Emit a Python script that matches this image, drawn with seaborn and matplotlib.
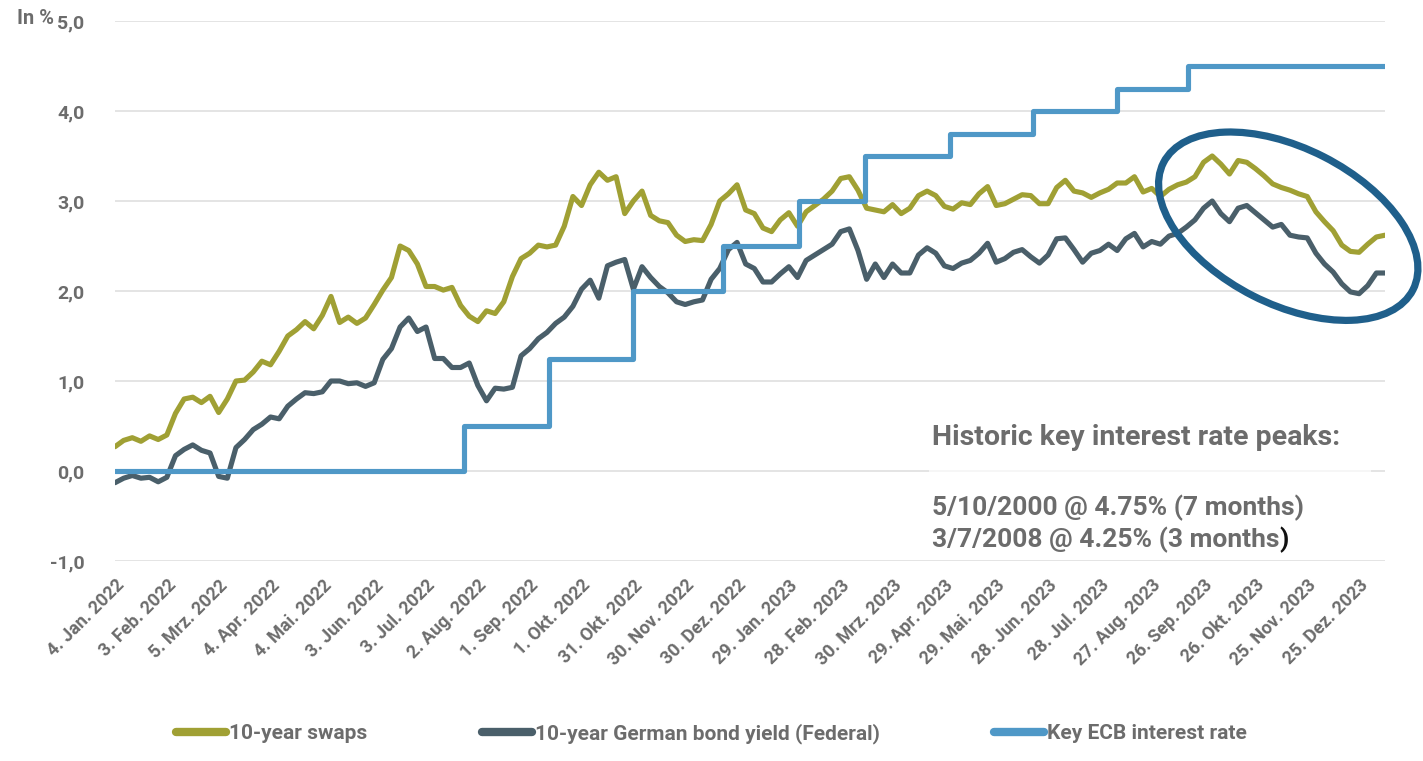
import numpy as np
import pandas as pd
import matplotlib
matplotlib.use("Agg")
import matplotlib.pyplot as plt
import matplotlib.dates as mdates
import seaborn as sns
from matplotlib.patches import Ellipse, Rectangle
from matplotlib.lines import Line2D
from matplotlib.transforms import IdentityTransform

# ---------------------------------------------------------------- data
# observations every 5 days, starting 4 Jan 2022
start_date = "2022-01-04"
n_obs = 148

swap_10y = [
    0.27, 0.34, 0.37, 0.33, 0.39, 0.35, 0.40, 0.64, 0.80, 0.82,
    0.76, 0.83, 0.65, 0.80, 1.00, 1.01, 1.10, 1.22, 1.18, 1.33,
    1.50, 1.57, 1.66, 1.58, 1.73, 1.94, 1.65, 1.71, 1.64, 1.70,
    1.85, 2.01, 2.15, 2.50, 2.45, 2.30, 2.05, 2.05, 2.01, 2.04,
    1.84, 1.72, 1.66, 1.78, 1.75, 1.88, 2.16, 2.36, 2.42, 2.51,
    2.49, 2.51, 2.72, 3.05, 2.95, 3.18, 3.32, 3.23, 3.27, 2.86,
    3.00, 3.11, 2.84, 2.78, 2.76, 2.62, 2.55, 2.57, 2.56, 2.74,
    3.00, 3.08, 3.18, 2.90, 2.86, 2.70, 2.66, 2.79, 2.87, 2.72,
    2.88, 2.95, 3.02, 3.11, 3.25, 3.27, 3.12, 2.92, 2.90, 2.88,
    2.96, 2.86, 2.92, 3.06, 3.11, 3.06, 2.94, 2.91, 2.98, 2.96,
    3.08, 3.16, 2.95, 2.97, 3.02, 3.07, 3.06, 2.97, 2.97, 3.15,
    3.23, 3.11, 3.09, 3.04, 3.09, 3.13, 3.20, 3.20, 3.27, 3.10,
    3.14, 3.05, 3.13, 3.18, 3.21, 3.27, 3.43, 3.50, 3.41, 3.30,
    3.45, 3.43, 3.36, 3.28, 3.19, 3.15, 3.12, 3.08, 3.05, 2.88,
    2.77, 2.67, 2.51, 2.44, 2.43, 2.52, 2.60, 2.62,
]

bund_10y = [
    -0.13, -0.08, -0.05, -0.08, -0.07, -0.12, -0.07, 0.17, 0.24, 0.29,
    0.23, 0.20, -0.06, -0.08, 0.26, 0.35, 0.46, 0.52, 0.60, 0.58,
    0.72, 0.80, 0.87, 0.86, 0.88, 1.00, 1.00, 0.97, 0.98, 0.94,
    0.98, 1.24, 1.36, 1.60, 1.70, 1.55, 1.60, 1.25, 1.25, 1.15,
    1.15, 1.20, 0.95, 0.78, 0.92, 0.91, 0.93, 1.28, 1.36, 1.47,
    1.54, 1.64, 1.71, 1.83, 2.02, 2.12, 1.92, 2.28, 2.32, 2.35,
    2.02, 2.27, 2.15, 2.05, 1.98, 1.88, 1.85, 1.88, 1.90, 2.13,
    2.25, 2.46, 2.54, 2.30, 2.25, 2.10, 2.10, 2.19, 2.27, 2.15,
    2.34, 2.40, 2.46, 2.52, 2.66, 2.69, 2.45, 2.13, 2.30, 2.15,
    2.30, 2.20, 2.20, 2.40, 2.48, 2.42, 2.28, 2.25, 2.31, 2.34,
    2.42, 2.53, 2.32, 2.36, 2.43, 2.46, 2.38, 2.31, 2.40, 2.58,
    2.59, 2.46, 2.32, 2.42, 2.45, 2.52, 2.45, 2.58, 2.64, 2.49,
    2.55, 2.52, 2.61, 2.64, 2.71, 2.79, 2.92, 3.00, 2.86, 2.77,
    2.92, 2.95, 2.87, 2.79, 2.71, 2.74, 2.62, 2.60, 2.59, 2.42,
    2.30, 2.21, 2.08, 1.99, 1.97, 2.06, 2.20, 2.20,
]

# key ECB rate: value valid from each date on
ecb_dates = [
    "2022-01-04", "2022-07-25", "2022-09-12", "2022-10-31", "2022-12-22",
    "2023-02-04", "2023-03-14", "2023-05-02", "2023-06-19", "2023-08-07",
    "2023-09-17", "2024-01-09",
]
ecb_rates = [0.0, 0.5, 1.25, 2.0, 2.5, 3.0, 3.5, 3.75, 4.0, 4.25, 4.5, 4.5]

tick_dates = pd.date_range(start_date, periods=25, freq="30D")
tick_labels = [
    "4. Jan. 2022", "3. Feb. 2022", "5. Mrz. 2022", "4. Apr. 2022",
    "4. Mai. 2022", "3. Jun. 2022", "3. Jul. 2022", "2. Aug. 2022",
    "1. Sep. 2022", "1. Okt. 2022", "31. Okt. 2022", "30. Nov. 2022",
    "30. Dez. 2022", "29. Jan. 2023", "28. Feb. 2023", "30. Mrz. 2023",
    "29. Apr. 2023", "29. Mai. 2023", "28. Jun. 2023", "28. Jul. 2023",
    "27. Aug. 2023", "26. Sep. 2023", "26. Okt. 2023", "25. Nov. 2023",
    "25. Dez. 2023",
]
y_ticks = [-1, 0, 1, 2, 3, 4, 5]

series_names = [
    "10-year swaps",
    "10-year German bond yield (Federal)",
    "Key ECB interest rate",
]

# highlighted recent period (centre of the ring)
ring_centre = ("2023-11-14", 2.72)

# ---------------------------------------------------------------- style
OLIVE = "#a0a034"
SLATE = "#4a5f6a"
BLUE = "#4f98c7"
RING = "#1f5f8b"
TEXT = "#6c6c6c"
GRID = "#dcdcdc"

sns.set_theme(style="white")
plt.rcParams["font.family"] = ["Roboto", "DejaVu Sans"]

W, H = 1423, 761
fig = plt.figure(figsize=(W / 100, H / 100), dpi=100)
ax = fig.add_axes([115 / W, 1 - 561 / H, 1270 / W, 540 / H])

dates = pd.date_range(start_date, periods=n_obs, freq="5D")
df = pd.DataFrame({"date": dates, "swap": swap_10y, "bund": bund_10y})
ecb = pd.DataFrame({"date": pd.to_datetime(ecb_dates), "rate": ecb_rates})

line_kw = dict(lw=3.7, solid_joinstyle="round", solid_capstyle="round")
sns.lineplot(data=df, x="date", y="swap", ax=ax, color=OLIVE, zorder=3, **line_kw)
sns.lineplot(data=df, x="date", y="bund", ax=ax, color=SLATE, zorder=4, **line_kw)
sns.lineplot(data=ecb, x="date", y="rate", ax=ax, color=BLUE, zorder=5,
             drawstyle="steps-post", **line_kw)

ax.set_xlim(dates[0], dates[-1])
ax.set_ylim(-1, 5)
ax.set_xlabel("")
ax.set_ylabel("")
for s in ax.spines.values():
    s.set_visible(False)

ax.set_yticks(y_ticks)
ax.set_yticklabels([f"{v:.1f}".replace(".", ",") for v in y_ticks])
ax.yaxis.grid(True, color=GRID, lw=1.1)
ax.set_axisbelow(True)
ax.tick_params(axis="y", length=0, pad=22, labelsize=14, labelcolor=TEXT)
for lab in ax.get_yticklabels():
    lab.set_fontweight("bold")

ax.set_xticks(tick_dates)
ax.set_xticklabels(tick_labels, rotation=45, ha="right", va="top",
                   rotation_mode="anchor")
ax.tick_params(axis="x", length=0, pad=11, labelsize=13, labelcolor=TEXT)
for lab in ax.get_xticklabels():
    lab.set_fontweight("bold")

fig.text(17 / W, 1 - 18 / H, "In %", ha="left", va="center",
         fontsize=14.5, fontweight="bold", color=TEXT)

# note on historic peaks, on a light backing
ax.add_patch(Rectangle((0.641, 0.015), 0.348, 0.27, transform=ax.transAxes,
                       facecolor="white", edgecolor="none", alpha=0.7, zorder=2))
ax.text(0.6435, 0.2296, "Historic key interest rate peaks:", transform=ax.transAxes,
        ha="left", va="center", fontsize=20.5, fontweight="bold", color=TEXT, zorder=6)
ax.text(0.6435, 0.0985, "5/10/2000 @ 4.75% (7 months)", transform=ax.transAxes,
        ha="left", va="center", fontsize=19, fontweight="bold", color=TEXT, zorder=6)
second = ax.text(0.6435, 0.0395, "3/7/2008 @ 4.25% (3 months", transform=ax.transAxes,
                 ha="left", va="center", fontsize=19, fontweight="bold",
                 color=TEXT, zorder=6)
ax.annotate(")", xy=(1, 0), xycoords=second, ha="left", va="bottom",
            fontsize=19, fontweight="bold", color="#111111", zorder=6)

# ring around the latest decline
cx, cy = ax.transData.transform((mdates.date2num(pd.Timestamp(ring_centre[0])),
                                 ring_centre[1]))
fig.add_artist(Ellipse((cx, cy), width=280, height=156, angle=-27,
                       transform=IdentityTransform(), fill=False,
                       edgecolor=RING, lw=5.2, zorder=10, clip_on=False))

# legend
handles = [Line2D([], [], color=c, lw=6, solid_capstyle="round")
           for c in (OLIVE, SLATE, BLUE)]
leg = fig.legend(handles, series_names, loc="lower center",
                 bbox_to_anchor=(0.5, -0.002), ncol=3, frameon=False,
                 handlelength=2.4, handletextpad=0.15, columnspacing=5.5,
                 prop={"size": 15, "weight": "bold"})
for t in leg.get_texts():
    t.set_color(TEXT)

fig.savefig("out.png", dpi=100)
